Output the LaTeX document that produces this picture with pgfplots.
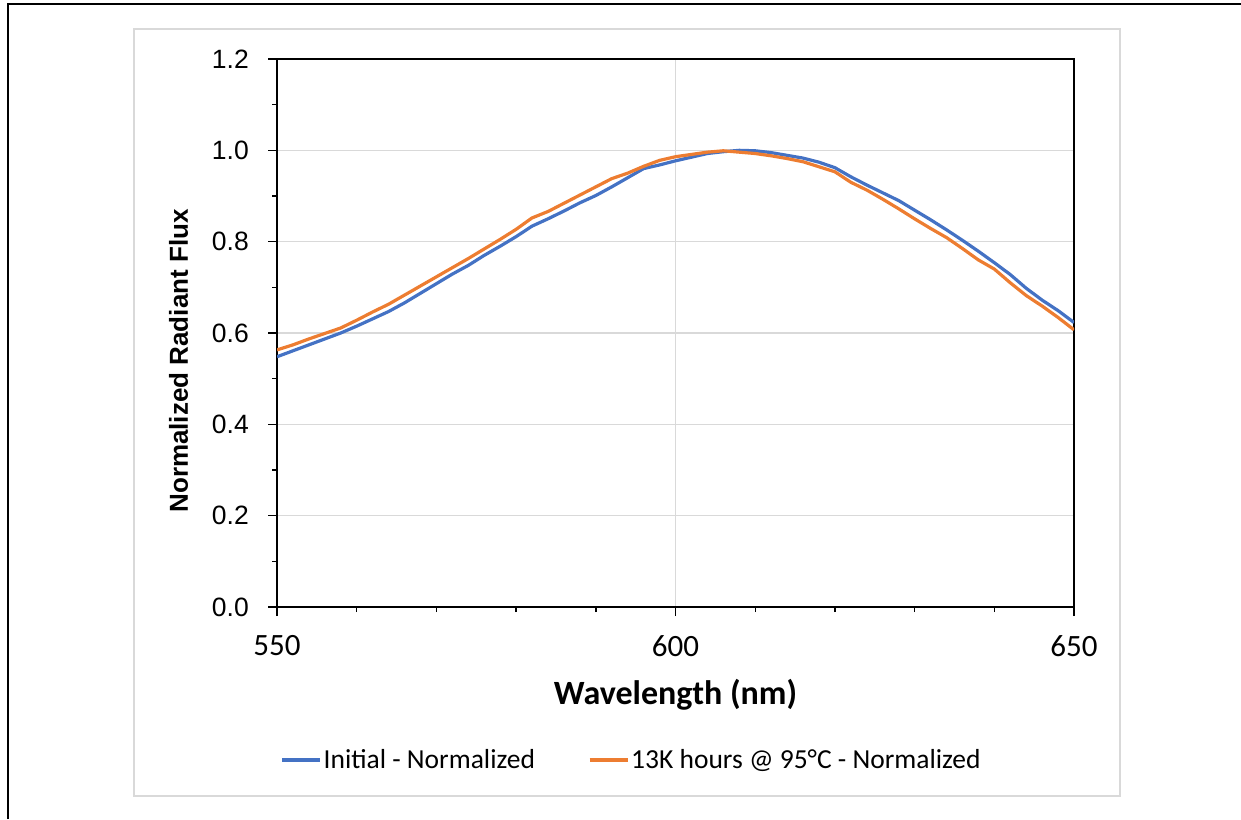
\documentclass[border=0pt]{standalone}
\usepackage{fontspec}
\setmainfont{Carlito}
\newfontfamily\arial{Liberation Sans}
\usepackage{pgfplots}
\pgfplotsset{compat=1.18}
\definecolor{xlblue}{HTML}{4472C4}
\definecolor{xlorange}{HTML}{ED7D31}
\definecolor{xlgrid}{HTML}{D9D9D9}
\begin{document}
\begin{tikzpicture}[x=1pt,y=1pt]
\useasboundingbox (0,0) rectangle (1241,819);
% outer frame (top and left)
\draw[black, line width=2.6pt] (8,0) -- (8,815) -- (1241,815);
% chart area border
\draw[xlgrid, line width=2pt] (134,790) rectangle (1120,23);
\begin{axis}[
  at={(277pt,212pt)}, anchor=south west,
  width=797pt, height=548pt, scale only axis,
  xmin=550, xmax=650, ymin=0, ymax=1.2,
  xtick={550,600,650}, minor x tick num=4,
  ytick={0,0.2,0.4,0.6,0.8,1.0,1.2}, minor y tick num=1,
  xtick pos=bottom, ytick pos=left,
  tick align=outside,
  major tick length=9pt, minor tick length=5pt,
  every tick/.style={black, line width=1.4pt},
  axis line style={black, line width=1.5pt},
  xmajorgrids, ymajorgrids,
  major grid style={xlgrid, line width=1.6pt},
  /pgf/number format/assume math mode=true,
  yticklabel style={font=\arial\fontsize{26.5}{26.5}\selectfont, inner sep=0pt, xshift=-19pt,
     /pgf/number format/.cd, fixed, fixed zerofill, precision=1},
  xticklabel style={font=\fontsize{31}{31}\selectfont, inner sep=0pt, yshift=-19pt},
  xlabel={Wavelength (nm)},
  ylabel={Normalized Radiant Flux},
  xlabel style={font=\bfseries\fontsize{34}{34}\selectfont, at={(axis description cs:0.5,-0.1788)}, anchor=base},
  ylabel style={font=\arial\bfseries\fontsize{26}{26}\selectfont, at={(axis description cs:-0.1117,0.449)}, anchor=base},
  legend columns=2,
  legend style={draw=none, fill=none, at={(axis description cs:0.4448,-0.2792)}, anchor=center,
     font=\fontsize{27.5}{30}\selectfont,
     /tikz/every even column/.append style={column sep=51pt},
     nodes={inner sep=2pt}},
  legend cell align=left,
  legend image code/.code={\draw[#1, line width=3.2pt] (0pt,0pt) -- (38pt,0pt);},
]
\addplot[xlblue, line width=3.2pt] coordinates {
(550,0.548)(552,0.561)(554,0.574)(556,0.587)(558,0.600)(560,0.615)(562,0.631)(564,0.647)(566,0.666)(568,0.687)
(570,0.708)(572,0.729)(574,0.748)(576,0.770)(578,0.790)(580,0.811)(582,0.834)(584,0.850)(586,0.867)(588,0.885)
(590,0.901)(592,0.920)(594,0.940)(596,0.960)(598,0.968)(600,0.977)(602,0.985)(604,0.993)(606,0.997)(608,1.000)
(610,0.999)(612,0.995)(614,0.989)(616,0.983)(618,0.974)(620,0.962)(622,0.942)(624,0.924)(626,0.907)(628,0.890)
(630,0.869)(632,0.848)(634,0.826)(636,0.803)(638,0.779)(640,0.754)(642,0.728)(644,0.698)(646,0.672)(648,0.649)
(650,0.623)};
\addlegendentry{Initial - Normalized}
\addplot[xlorange, line width=3.2pt] coordinates {
(550,0.563)(552,0.574)(554,0.587)(556,0.599)(558,0.611)(560,0.628)(562,0.646)(564,0.663)(566,0.683)(568,0.703)
(570,0.723)(572,0.743)(574,0.763)(576,0.784)(578,0.805)(580,0.827)(582,0.852)(584,0.866)(586,0.884)(588,0.902)
(590,0.920)(592,0.938)(594,0.950)(596,0.965)(598,0.978)(600,0.986)(602,0.991)(604,0.996)(606,0.999)(608,0.996)
(610,0.993)(612,0.988)(614,0.982)(616,0.975)(618,0.964)(620,0.953)(622,0.930)(624,0.913)(626,0.893)(628,0.872)
(630,0.850)(632,0.829)(634,0.809)(636,0.785)(638,0.760)(640,0.740)(642,0.710)(644,0.682)(646,0.659)(648,0.634)
(650,0.607)};
\addlegendentry{13K hours @ 95°C - Normalized}
\end{axis}
\end{tikzpicture}
\end{document}
